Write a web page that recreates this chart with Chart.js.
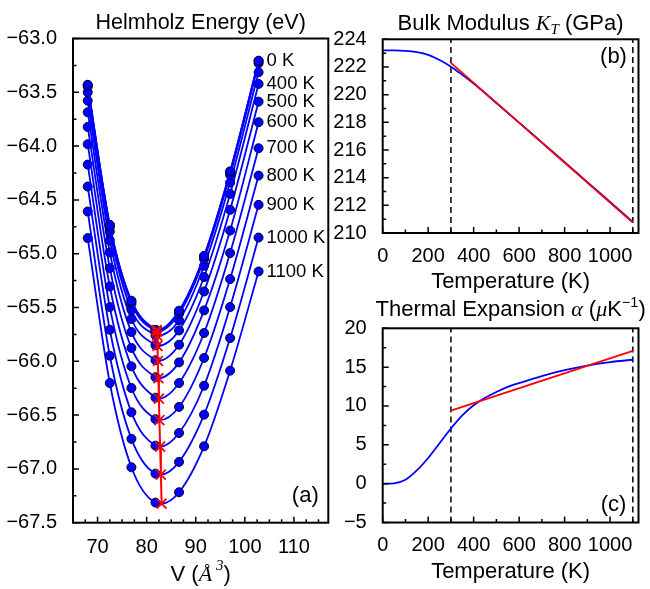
<!DOCTYPE html>
<html>
<head>
<meta charset="utf-8">
<title>Helmholz energy, bulk modulus, thermal expansion</title>
<script src="https://cdn.jsdelivr.net/npm/chart.js"></script>
<style>
    body { margin: 0; background: #fff; }
    #wrap { position: relative; width: 650px; height: 589px; }
    canvas { position: absolute; left: 0; top: 0; }
</style>
</head>
<body>
<div id="wrap">
    <canvas id="chartA" width="650" height="589"></canvas>
    <canvas id="chartB" width="650" height="589"></canvas>
    <canvas id="chartC" width="650" height="589"></canvas>
</div>
<script>
// (a) Helmholz energy (eV) vs volume, one row per temperature
const volumes = [68.0, 72.5, 76.9, 81.8, 86.6, 91.7, 97.0, 102.8];
const temps = [0, 100, 200, 300, 400, 500, 600, 700, 800, 900, 1000, 1100];
const f0K    = [-63.430, -64.732, -65.437, -65.707, -65.530, -65.020, -64.235, -63.206];
const f100K  = [-63.435, -64.735, -65.444, -65.709, -65.537, -65.024, -64.240, -63.209];
const f200K  = [-63.448, -64.753, -65.465, -65.721, -65.558, -65.050, -64.267, -63.230];
const f300K  = [-63.500, -64.794, -65.521, -65.758, -65.620, -65.112, -64.339, -63.314];
const f400K  = [-63.578, -64.877, -65.607, -65.851, -65.713, -65.217, -64.444, -63.422];
const f500K  = [-63.685, -64.989, -65.728, -65.990, -65.846, -65.351, -64.592, -63.587];
const f600K  = [-63.822, -65.134, -65.876, -66.148, -66.010, -65.527, -64.785, -63.778];
const f700K  = [-63.982, -65.305, -66.047, -66.338, -66.202, -65.737, -64.994, -64.020];
const f800K  = [-64.172, -65.496, -66.248, -66.538, -66.424, -65.969, -65.236, -64.274];
const f900K  = [-64.376, -65.707, -66.474, -66.784, -66.666, -66.227, -65.496, -64.546];
const f1000K = [-64.608, -65.948, -66.721, -67.044, -66.935, -66.496, -65.784, -64.850];
const f1100K = [-64.855, -66.202, -66.985, -67.313, -67.217, -66.790, -66.087, -65.165];
const energies = [f0K, f100K, f200K, f300K, f400K, f500K, f600K, f700K, f800K, f900K, f1000K, f1100K];
// minimum of each fitted curve (red crosses)
const vMin = [82.05, 82.05, 82.1, 82.15, 82.2, 82.3, 82.4, 82.5, 82.6, 82.75, 82.9, 83.05];
const fMin = [-65.711, -65.714, -65.725, -65.762, -65.857, -65.997, -66.157, -66.347, -66.547, -66.793, -67.053, -67.322];
const labelledTemps = [0, 400, 500, 600, 700, 800, 900, 1000, 1100];

// (b) bulk modulus (GPa) vs temperature
const tempB = [0, 50, 100, 150, 200, 250, 300, 350, 400, 500, 600, 700, 800, 900, 1000, 1100];
const bulkK = [223.2, 223.2, 223.17, 223.07, 222.87, 222.5, 222.02, 221.43, 220.8, 219.4, 217.98, 216.55, 215.12, 213.68, 212.24, 210.8];
const bulkFitT = [300, 1100];
const bulkFitK = [222.3, 210.75];

// (c) thermal expansion (1e-6/K) vs temperature
const tempC = [0, 50, 100, 150, 200, 250, 300, 350, 400, 450, 500, 550, 600, 700, 800, 900, 1000, 1100];
const alpha = [0, 0.05, 0.5, 1.7, 3.3, 5.2, 7.1, 8.8, 10.1, 11.05, 11.8, 12.45, 12.95, 13.85, 14.6, 15.2, 15.65, 15.95];
const alphaFitT = [300, 1100];
const alphaFit = [9.4, 17.1];

// dashed markers of the fit range
const rangeT = [300, 1100];

// ticks
const xTicksA = [70, 80, 90, 100, 110];
const yTicksA = [-67.5, -67.0, -66.5, -66.0, -65.5, -65.0, -64.5, -64.0, -63.5, -63.0];
const xTicksT = [0, 200, 400, 600, 800, 1000];
const yTicksB = [210, 212, 214, 216, 218, 220, 222, 224];
const yTicksC = [-5, 0, 5, 10, 15, 20];

const BLUE = '#0000ff';
const RED = '#ff0000';
const SANS = '"Liberation Sans", Arial, sans-serif';
const SERIF = '"Liberation Serif", "DejaVu Serif", serif';
const sans = s => s + 'px ' + SANS;
const ital = s => 'italic ' + s + 'px ' + SERIF;

Chart.defaults.font.family = SANS;
Chart.defaults.color = '#000';

const minus = s => s.replace('-', '\u2212');

function drawRich(ctx, parts, cx, base) {
    let w = 0;
    parts.forEach(p => { ctx.font = p.f; p.w = ctx.measureText(p.t).width; w += p.w; });
    let x = cx - w / 2;
    ctx.textAlign = 'left';
    ctx.textBaseline = 'alphabetic';
    parts.forEach(p => { ctx.font = p.f; ctx.fillText(p.t, x, base + (p.dy || 0)); x += p.w; });
}

// frame + inward ticks
const frameTicks = {
    id: 'frameTicks',
    afterDatasetsDraw(chart, args, opts) {
        const {ctx, chartArea: a, scales} = chart;
        ctx.save();
        ctx.strokeStyle = '#000';
        ctx.lineWidth = 1.5;
        ctx.beginPath();
        ['x', 'y'].forEach(k => {
            const s = scales[k];
            const marks = s.ticks.map(t => [t.value, 6]);
            const st = opts[k + 'Minor'];
            for (let v = Math.ceil(s.min / st - 1e-9) * st; v <= s.max + 1e-9; v += st) marks.push([v, 3.5]);
            marks.forEach(([v, len]) => {
                const p = s.getPixelForValue(v);
                if (k === 'x') { ctx.moveTo(p, a.bottom); ctx.lineTo(p, a.bottom - len); }
                else { ctx.moveTo(a.left, p); ctx.lineTo(a.left + len, p); }
            });
        });
        ctx.stroke();
        ctx.lineWidth = 2;
        ctx.strokeRect(a.left, a.top, a.right - a.left, a.bottom - a.top);
        ctx.restore();
    }
};

function axis(min, max, ticks, fmt, size, pad) {
    return {
        type: 'linear', min: min, max: max,
        grid: { display: false },
        border: { display: false },
        afterBuildTicks: s => { s.ticks = ticks.map(v => ({ value: v })); },
        afterFit: s => { if (s.isHorizontal()) s.height = size; else s.width = size; },
        ticks: { autoSkip: false, maxRotation: 0, padding: pad, font: { size: 20 }, callback: fmt }
    };
}

function baseOptions(padding, scales, minors) {
    return {
        responsive: false,
        animation: false,
        devicePixelRatio: 1,
        events: [],
        layout: { padding: padding },
        scales: scales,
        plugins: { legend: { display: false }, tooltip: { enabled: false }, frameTicks: minors }
    };
}

// ---------- (a) ----------
const dsA = energies.map((row, i) => {
    const pts = volumes.map((v, j) => ({ x: v, y: row[j] }));
    pts.splice(4, 0, { x: vMin[i], y: fMin[i] });
    return {
        data: pts,
        borderColor: BLUE,
        borderWidth: 1.8,
        cubicInterpolationMode: 'monotone',
        pointRadius: pts.map((p, k) => k === 4 ? 0 : 4.5),
        pointBackgroundColor: BLUE,
        pointBorderColor: '#000033',
        pointBorderWidth: 1,
        order: 2
    };
});
dsA.push({
    data: vMin.map((v, i) => ({ x: v, y: fMin[i] })),
    borderColor: RED,
    borderWidth: 2,
    pointStyle: 'crossRot',
    pointRadius: 7,
    pointBorderColor: RED,
    pointBorderWidth: 1.8,
    order: 0
});

const textA = {
    id: 'textA',
    afterDraw(chart) {
        const {ctx, chartArea: a, scales: {x, y}} = chart;
        const cx = (a.left + a.right) / 2;
        ctx.save();
        ctx.fillStyle = '#000';
        drawRich(ctx, [{ t: 'Helmholz Energy (eV)', f: sans(21.5) }], cx, 29);
        drawRich(ctx, [
            { t: 'V (', f: sans(22) },
            { t: 'Å', f: ital(22) },
            { t: ' 3', f: ital(15), dy: -11 },
            { t: ')', f: sans(22) }
        ], cx, 581);
        ctx.font = sans(18.5);
        ctx.textAlign = 'left';
        ctx.textBaseline = 'middle';
        const last = volumes.length - 1;
        labelledTemps.forEach(T => {
            const row = energies[temps.indexOf(T)];
            ctx.fillText(T + ' K', x.getPixelForValue(volumes[last]) + 8, y.getPixelForValue(row[last]));
        });
        ctx.font = sans(22);
        ctx.textAlign = 'center';
        ctx.fillText('(a)', a.right - 23, a.bottom - 27);
        ctx.restore();
    }
};

new Chart(document.getElementById('chartA'), {
    type: 'line',
    data: { datasets: dsA },
    options: baseOptions(
        { left: 3, top: 38.5, right: 321.7, bottom: 26.3 },
        {
            x: axis(65, 117, xTicksA, v => String(v), 40, 5),
            y: axis(-67.5, -63.0, yTicksA, v => minus(v.toFixed(1)), 70, 8)
        },
        { xMinor: 2.5, yMinor: 0.25 }
    ),
    plugins: [frameTicks, textA]
});

// ---------- (b) and (c) ----------
function rangeLines(yLo, yHi) {
    return rangeT.map(t => ({
        data: [{ x: t, y: yLo }, { x: t, y: yHi }],
        borderColor: '#000',
        borderWidth: 1.5,
        borderDash: [6, 4],
        pointRadius: 0,
        order: 3
    }));
}

const textB = {
    id: 'textB',
    afterDraw(chart) {
        const {ctx, chartArea: a} = chart;
        const cx = (a.left + a.right) / 2;
        ctx.save();
        ctx.fillStyle = '#000';
        drawRich(ctx, [
            { t: 'Bulk Modulus ', f: sans(22) },
            { t: 'K', f: ital(22) },
            { t: 'T', f: ital(15), dy: 4 },
            { t: ' (GPa)', f: sans(22) }
        ], cx, 30);
        drawRich(ctx, [{ t: 'Temperature (K)', f: sans(22) }], cx, 288);
        ctx.font = sans(22);
        ctx.textAlign = 'center';
        ctx.textBaseline = 'middle';
        ctx.fillText('(b)', a.right - 25, a.top + 18);
        ctx.restore();
    }
};

new Chart(document.getElementById('chartB'), {
    type: 'line',
    data: {
        datasets: [
            { data: bulkFitT.map((t, i) => ({ x: t, y: bulkFitK[i] })), borderColor: RED, borderWidth: 1.8, pointRadius: 0, order: 0 },
            { data: tempB.map((t, i) => ({ x: t, y: bulkK[i] })), borderColor: BLUE, borderWidth: 1.8, pointRadius: 0, cubicInterpolationMode: 'monotone', order: 1 }
        ].concat(rangeLines(yTicksB[0], yTicksB[yTicksB.length - 1]))
    },
    options: baseOptions(
        { left: 322.7, top: 39.3, right: 11.5, bottom: 316 },
        {
            x: axis(0, 1125, xTicksT, v => String(v), 40, 3),
            y: axis(210, 224, yTicksB, v => String(v), 60, 8)
        },
        { xMinor: 100, yMinor: 1 }
    ),
    plugins: [frameTicks, textB]
});

const textC = {
    id: 'textC',
    afterDraw(chart) {
        const {ctx, chartArea: a} = chart;
        const cx = (a.left + a.right) / 2;
        ctx.save();
        ctx.fillStyle = '#000';
        drawRich(ctx, [
            { t: 'Thermal Expansion ', f: sans(22) },
            { t: 'α', f: ital(22) },
            { t: ' (', f: sans(22) },
            { t: 'μ', f: ital(22) },
            { t: 'K', f: sans(22) },
            { t: '\u22121', f: sans(14.5), dy: -9 },
            { t: ')', f: sans(22) }
        ], cx, 315.5);
        drawRich(ctx, [{ t: 'Temperature (K)', f: sans(22) }], cx, 578);
        ctx.font = sans(22);
        ctx.textAlign = 'center';
        ctx.textBaseline = 'middle';
        ctx.fillText('(c)', a.right - 25, a.bottom - 18);
        ctx.restore();
    }
};

new Chart(document.getElementById('chartC'), {
    type: 'line',
    data: {
        datasets: [
            { data: alphaFitT.map((t, i) => ({ x: t, y: alphaFit[i] })), borderColor: RED, borderWidth: 1.8, pointRadius: 0, order: 0 },
            { data: tempC.map((t, i) => ({ x: t, y: alpha[i] })), borderColor: BLUE, borderWidth: 1.8, pointRadius: 0, cubicInterpolationMode: 'monotone', order: 1 }
        ].concat(rangeLines(yTicksC[0], yTicksC[yTicksC.length - 1]))
    },
    options: baseOptions(
        { left: 322.7, top: 328.3, right: 11.5, bottom: 26.5 },
        {
            x: axis(0, 1125, xTicksT, v => String(v), 40, 3),
            y: axis(-5, 20, yTicksC, v => minus(String(v)), 60, 8)
        },
        { xMinor: 100, yMinor: 2.5 }
    ),
    plugins: [frameTicks, textC]
});
</script>
</body>
</html>
